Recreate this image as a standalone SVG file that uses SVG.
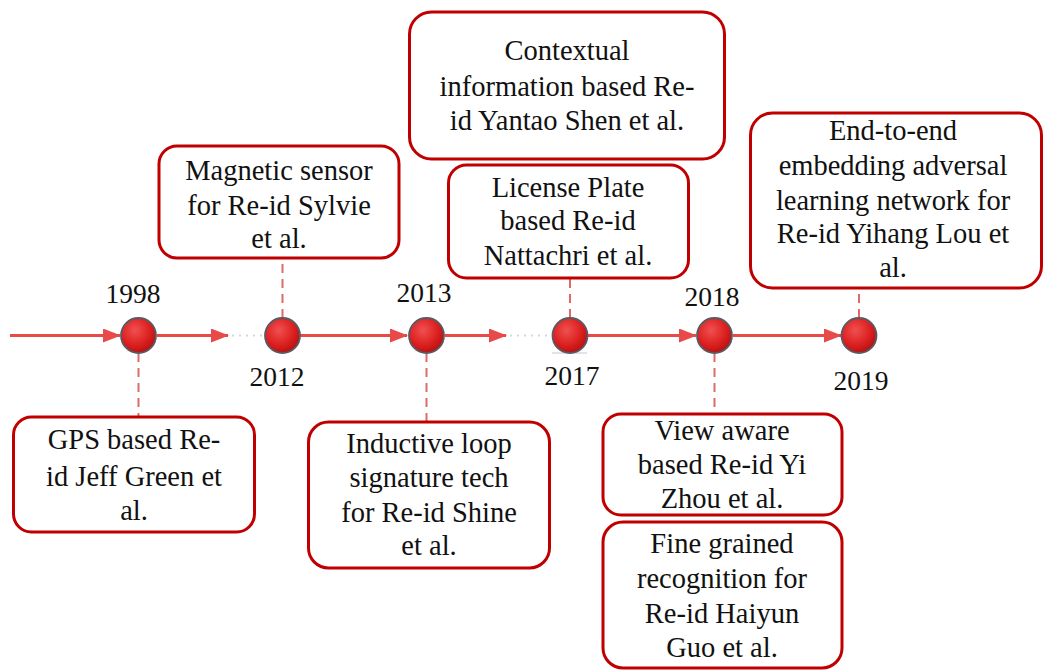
<svg xmlns="http://www.w3.org/2000/svg" width="1053" height="670" viewBox="0 0 1053 670">
<defs>
<style>
.box{fill:#fff;stroke:#c00000;stroke-width:3}
.t{font-size:28.5px;fill:#111;text-anchor:middle}
.yr{font-size:27.5px;fill:#111;text-anchor:middle}
.axis{stroke:#e84a4a;stroke-width:3;fill:none}
.dot{stroke:#d8d8d8;stroke-width:2;stroke-dasharray:2 5;fill:none}
.dash{stroke:#e06a6a;stroke-width:2;stroke-dasharray:9 6;fill:none}
.node{fill:url(#g);stroke:#5a5a66;stroke-width:1.8}
</style>
<radialGradient id="g" cx="0.4" cy="0.35" r="0.7">
<stop offset="0" stop-color="#f05050"/>
<stop offset="0.6" stop-color="#dc2020"/>
<stop offset="1" stop-color="#b01010"/>
</radialGradient>
<marker id="ah" markerWidth="18" markerHeight="14" refX="17" refY="7" orient="auto" markerUnits="userSpaceOnUse">
<path d="M0,0 L18,7 L0,14 Z" fill="#e84a4a"/>
</marker>
</defs>
<g id="connectors">
<line class="axis" x1="10" y1="335.5" x2="120" y2="335.5" marker-end="url(#ah)"/>
<line class="axis" x1="157" y1="335.5" x2="228" y2="335.5" marker-end="url(#ah)"/>
<line class="dot" x1="232" y1="335.5" x2="264" y2="335.5"/>
<line class="axis" x1="300" y1="335.5" x2="407" y2="335.5" marker-end="url(#ah)"/>
<line class="axis" x1="445" y1="335.5" x2="506" y2="335.5" marker-end="url(#ah)"/>
<line class="dot" x1="510" y1="335.5" x2="551" y2="335.5"/>
<line class="axis" x1="588" y1="335.5" x2="696" y2="335.5" marker-end="url(#ah)"/>
<line class="axis" x1="733" y1="335.5" x2="841" y2="335.5" marker-end="url(#ah)"/>
<line class="dash" x1="138.5" y1="353" x2="138.5" y2="417"/>
<line class="dash" x1="282.5" y1="318" x2="282.5" y2="258"/>
<line class="dash" x1="426.5" y1="353" x2="426.5" y2="422"/>
<line class="dash" x1="570" y1="318" x2="570" y2="278"/>
<line class="dash" x1="714.5" y1="353" x2="714.5" y2="414"/>
<line class="dash" x1="859" y1="318" x2="859" y2="288"/>
<line x1="552" y1="353" x2="587" y2="353" stroke="#c8c8cc" stroke-width="1.2"/>
</g>
<g id="timeline-nodes">
<circle class="node" cx="138.5" cy="335.5" r="17.5"/>
<circle class="node" cx="282.5" cy="335.5" r="17.5"/>
<circle class="node" cx="426.5" cy="335.5" r="17.5"/>
<circle class="node" cx="570" cy="335.5" r="17.5"/>
<circle class="node" cx="714.5" cy="335.5" r="17.5"/>
<circle class="node" cx="859" cy="335.5" r="17.5"/>
</g>
<g font-family="'Liberation Serif', 'Times New Roman', 'DejaVu Serif', serif">
<g id="years">
<text class="yr" x="133" y="303">1998</text>
<text class="yr" x="277" y="386">2012</text>
<text class="yr" x="424" y="302">2013</text>
<text class="yr" x="572" y="385">2017</text>
<text class="yr" x="712" y="306">2018</text>
<text class="yr" x="861" y="390">2019</text>
</g>
<g id="n-gps">
<rect class="box" x="13.5" y="417" width="241" height="115" rx="18"/>
<text class="t" x="134" y="449">GPS based Re-</text>
<text class="t" x="134" y="486">id Jeff Green et</text>
<text class="t" x="134" y="520">al.</text>
</g>
<g id="n-magnetic">
<rect class="box" x="159" y="146" width="240" height="112" rx="18"/>
<text class="t" x="279" y="180">Magnetic sensor</text>
<text class="t" x="279" y="215">for Re-id Sylvie</text>
<text class="t" x="279" y="248">et al.</text>
</g>
<g id="n-inductive">
<rect class="box" x="308.5" y="422" width="241" height="146" rx="20"/>
<text class="t" x="429" y="453">Inductive loop</text>
<text class="t" x="429" y="487">signature tech</text>
<text class="t" x="429" y="522">for Re-id Shine</text>
<text class="t" x="429" y="555">et al.</text>
</g>
<g id="n-contextual">
<rect class="box" x="409.5" y="12" width="315" height="147" rx="22"/>
<text class="t" x="567" y="60">Contextual</text>
<text class="t" x="567" y="96">information based Re-</text>
<text class="t" x="567" y="130">id Yantao Shen et al.</text>
</g>
<g id="n-license">
<rect class="box" x="448.5" y="165" width="240" height="113" rx="18"/>
<text class="t" x="568" y="197">License Plate</text>
<text class="t" x="568" y="230">based Re-id</text>
<text class="t" x="568" y="265">Nattachri et al.</text>
</g>
<g id="n-view">
<rect class="box" x="603" y="414" width="239" height="101" rx="18"/>
<text class="t" x="722" y="440">View aware</text>
<text class="t" x="722" y="474">based Re-id Yi</text>
<text class="t" x="722" y="508">Zhou et al.</text>
</g>
<g id="n-fine">
<rect class="box" x="603" y="522" width="239" height="146" rx="20"/>
<text class="t" x="722" y="553">Fine grained</text>
<text class="t" x="722" y="588">recognition for</text>
<text class="t" x="722" y="623">Re-id Haiyun</text>
<text class="t" x="722" y="657">Guo et al.</text>
</g>
<g id="n-endtoend">
<rect class="box" x="750.5" y="113" width="291" height="175" rx="22"/>
<text class="t" x="893" y="140">End-to-end</text>
<text class="t" x="893" y="175">embedding adversal</text>
<text class="t" x="893" y="210">learning network for</text>
<text class="t" x="893" y="243">Re-id Yihang Lou et</text>
<text class="t" x="893" y="277">al.</text>
</g>
</g>
</svg>
